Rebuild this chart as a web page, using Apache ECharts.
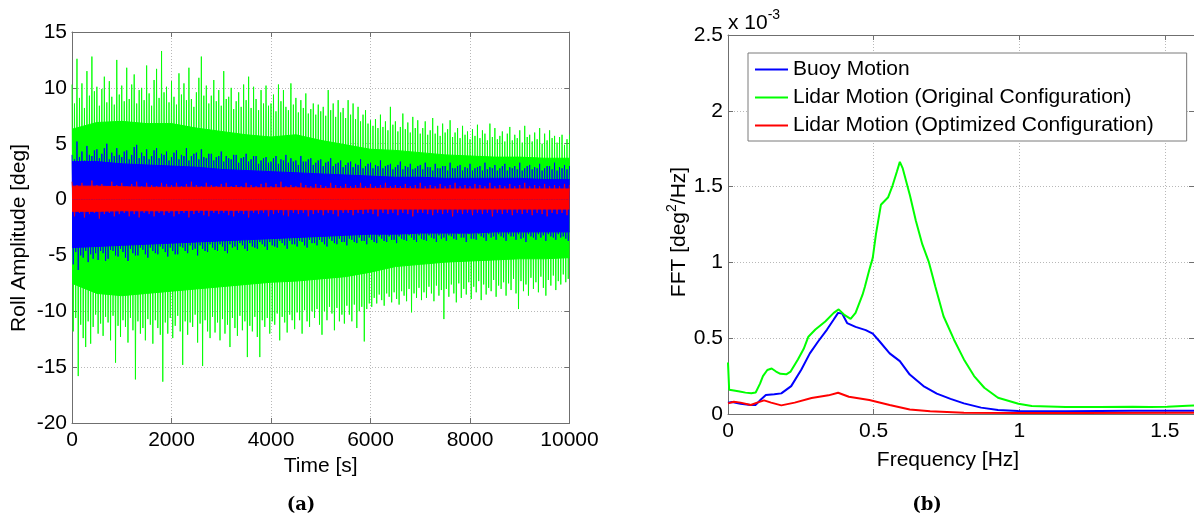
<!DOCTYPE html>
<html>
<head>
<meta charset="utf-8">
<script src="https://cdn.jsdelivr.net/npm/echarts@6/dist/echarts.min.js"></script>
<style>
  html, body { margin: 0; padding: 0; background: #ffffff; }
  #chart { width: 1194px; height: 520px; }
</style>
</head>
<body>
<div id="chart"></div>
<script>
// ---------- (a) roll amplitude time series ----------
// Peak samples in deg: hi at t = k*step, lo at t = k*step + step/2
const greenStep = 50;
const greenHi = [
  10.3, 8.6, 12.6, 9.1, 10.4, 8.2, 11.5, 9.3, 12.8, 9.7,
  10.1, 8.4, 9.9, 11.0, 8.7, 10.6, 9.2, 8.5, 12.5, 9.4,
  10.2, 8.8, 11.8, 9.0, 10.3, 11.2, 8.6, 9.8, 10.0, 8.9,
  12.0, 9.5, 8.4, 10.7, 11.7, 9.1, 13.3, 9.6, 10.1, 8.7,
  10.6, 9.2, 8.5, 11.3, 9.4, 10.4, 8.9, 11.8, 9.0, 8.3,
  9.6, 10.9, 12.8, 9.3, 10.2, 8.6, 9.3, 10.7, 8.8, 9.8,
  8.4, 11.5, 9.0, 9.2, 10.0, 8.1, 8.8, 9.6, 8.3, 10.3,
  8.9, 11.0, 8.2, 10.1, 9.0, 8.0, 9.8, 8.6, 10.2, 8.4,
  8.6, 9.4, 7.9, 10.3, 8.8, 9.8, 8.3, 8.0, 10.4, 8.5,
  9.1, 7.8, 8.9, 8.2, 9.5, 7.7, 8.1, 8.6, 7.6, 8.5,
  7.9, 8.3, 7.5, 9.8, 8.0, 8.6, 7.4, 8.9, 7.8, 8.2,
  7.3, 8.9, 7.6, 8.6, 7.2, 8.3, 7.0, 7.6, 8.0, 6.8,
  7.1, 6.6, 7.2, 6.4, 7.6, 6.5, 7.0, 6.2, 8.3, 6.7,
  7.0, 6.1, 6.5, 7.7, 6.3, 6.9, 6.0, 7.4, 6.4, 7.1,
  5.9, 6.4, 7.0, 5.8, 6.2, 7.3, 5.9, 6.6, 5.7, 6.8,
  6.0, 6.3, 7.1, 5.6, 6.0, 6.4, 5.5, 6.6, 5.8, 6.1,
  5.4, 6.3, 5.7, 6.7, 5.5, 6.2, 5.9, 5.3, 6.8, 5.6,
  6.4, 5.4, 5.7, 6.1, 5.2, 5.9, 6.5, 5.3, 5.8, 5.5,
  6.2, 5.1, 6.6, 5.6, 5.8, 5.2, 6.0, 5.4, 6.4, 5.0,
  5.9, 5.3, 6.2, 5.5, 5.7, 5.1, 5.6, 5.8, 4.9, 5.4,
  5.8
];
const greenLo = [
  -11.8, -10.6, -15.8, -11.2, -12.4, -13.2, -10.9, -12.9, -11.4, -10.3,
  -12.0, -11.1, -12.2, -10.5, -11.0, -12.6, -10.4, -14.6, -11.3, -12.3,
  -10.8, -11.4, -12.8, -10.6, -11.7, -16.1, -10.9, -12.0, -11.5, -12.6,
  -10.7, -11.2, -12.9, -10.8, -11.5, -12.1, -16.3, -11.0, -12.0, -10.6,
  -12.4, -11.3, -10.4, -11.8, -14.8, -10.9, -12.1, -11.0, -11.4, -10.3,
  -12.8, -11.1, -14.9, -10.8, -11.8, -12.4, -10.5, -11.9, -11.0, -12.6,
  -10.7, -12.0, -11.2, -13.2, -10.6, -11.5, -12.2, -10.4, -11.7, -10.9,
  -14.1, -11.3, -11.8, -10.5, -12.3, -14.1, -10.8, -11.4, -10.6, -12.0,
  -10.9, -11.2, -10.2, -12.6, -10.5, -11.0, -11.9, -10.3, -10.8, -11.6,
  -10.1, -10.8, -12.0, -9.9, -10.9, -11.4, -10.0, -10.6, -9.8, -11.2,
  -12.1, -10.0, -10.8, -9.6, -10.2, -11.7, -9.7, -10.9, -10.3, -11.1,
  -9.5, -10.3, -10.9, -9.4, -11.5, -10.0, -9.6, -12.7, -9.8, -9.3,
  -9.6, -8.8, -9.3, -8.5, -9.0, -9.5, -8.4, -8.7, -9.2, -8.3,
  -8.9, -9.4, -8.2, -8.6, -9.1, -8.0, -10.1, -8.4, -8.8, -7.9,
  -9.0, -8.3, -8.8, -7.8, -8.4, -9.1, -7.7, -8.6, -8.1, -10.7,
  -8.0, -8.7, -7.6, -8.4, -9.2, -7.5, -8.8, -8.0, -8.5, -7.4,
  -8.9, -7.8, -8.3, -7.3, -9.0, -7.6, -8.5, -7.9, -8.2, -7.2,
  -8.7, -7.7, -8.0, -7.4, -8.6, -7.5, -8.1, -7.1, -8.4, -9.8,
  -7.3, -8.2, -7.6, -8.6, -7.0, -8.0, -7.4, -8.3, -6.9, -7.9,
  -8.6, -7.2, -7.7, -6.8, -8.1, -7.3, -7.6, -6.7, -7.4, -7.1
];
const blueStep = 50;
const blueHi = [
  4.0, 3.6, 5.2, 3.8, 4.3, 3.5, 4.8, 4.0, 3.9, 4.4,
  4.5, 3.7, 4.1, 4.6, 5.0, 3.6, 4.2, 3.9, 4.6, 4.0,
  3.8, 4.3, 4.4, 3.6, 4.0, 4.7, 4.9, 3.7, 4.2, 3.9,
  4.5, 3.6, 3.9, 4.4, 4.6, 3.7, 4.1, 4.0, 4.3, 3.5,
  3.8, 4.2, 4.4, 3.6, 4.0, 3.9, 4.6, 3.5, 3.9, 4.1,
  4.2, 3.6, 4.5, 3.8, 3.7, 4.1, 4.1, 3.5, 3.8, 3.9,
  4.3, 3.4, 3.9, 3.7, 3.6, 4.0, 4.0, 3.3, 3.7, 3.8,
  4.1, 3.4, 3.6, 3.9, 3.9, 3.2, 3.5, 3.7, 3.8, 3.3,
  3.4, 3.7, 3.9, 3.2, 3.6, 3.5, 4.0, 3.3, 3.7, 3.4,
  3.5, 3.1, 3.9, 3.4, 3.4, 3.6, 3.7, 3.1, 3.3, 3.5,
  3.6, 3.0, 3.3, 3.4, 3.7, 3.0, 3.2, 3.3, 3.5, 2.9,
  3.1, 3.3, 3.4, 2.9, 3.2, 3.1, 3.6, 2.8, 3.0, 3.2,
  3.3, 2.8, 3.1, 3.0, 3.5, 2.8, 3.0, 3.1, 3.2, 2.7,
  2.9, 3.1, 3.4, 2.7, 3.0, 2.9, 3.2, 2.7, 2.8, 3.0,
  3.1, 2.7, 3.3, 2.9, 2.9, 2.6, 3.2, 2.8, 2.8, 3.0,
  3.0, 2.6, 3.3, 2.8, 2.8, 3.0, 3.1, 2.6, 2.9, 2.8,
  3.2, 2.6, 2.8, 2.9, 3.0, 2.6, 3.3, 2.7, 2.9, 2.8,
  3.1, 2.6, 2.8, 3.0, 3.2, 2.6, 2.9, 2.8, 3.0, 2.7,
  3.3, 2.6, 2.8, 3.0, 3.1, 2.7, 2.9, 2.8, 3.2, 2.6,
  2.8, 3.0, 3.0, 2.7, 3.3, 2.6, 2.9, 2.8, 3.1, 2.7,
  3.0
];
const blueLo = [
  -5.8, -4.7, -6.3, -5.0, -5.2, -4.6, -5.6, -4.9, -5.3, -4.8,
  -5.4, -4.6, -4.8, -5.5, -5.3, -4.5, -4.6, -5.0, -5.1, -4.4,
  -4.7, -5.2, -5.5, -4.4, -4.8, -5.0, -5.0, -4.3, -4.5, -4.9,
  -5.2, -4.3, -4.6, -4.8, -4.9, -4.2, -4.4, -4.7, -5.1, -4.3,
  -4.6, -4.9, -4.9, -4.2, -4.3, -4.6, -4.8, -4.1, -4.5, -4.4,
  -5.0, -4.1, -4.4, -4.6, -4.7, -4.0, -4.3, -4.5, -4.6, -4.0,
  -4.2, -4.6, -4.8, -4.0, -4.3, -4.2, -4.5, -3.9, -4.1, -4.4,
  -4.6, -3.9, -4.2, -4.3, -4.4, -3.8, -4.0, -4.2, -4.5, -3.8,
  -4.1, -4.2, -4.3, -3.7, -3.9, -4.1, -4.4, -3.7, -4.0, -4.0,
  -4.2, -3.7, -3.8, -4.1, -4.3, -3.6, -3.9, -3.9, -4.1, -3.6,
  -3.8, -4.0, -4.2, -3.5, -3.7, -3.9, -4.0, -3.5, -3.8, -3.8,
  -4.1, -3.5, -3.6, -3.8, -3.9, -3.4, -3.7, -3.7, -4.0, -3.4,
  -3.6, -3.8, -3.9, -3.3, -3.5, -3.7, -3.8, -3.3, -3.6, -3.6,
  -3.9, -3.3, -3.5, -3.6, -3.7, -3.2, -3.4, -3.6, -3.8, -3.2,
  -3.5, -3.6, -3.7, -3.2, -3.4, -3.5, -3.8, -3.2, -3.5, -3.4,
  -3.7, -3.2, -3.3, -3.5, -3.6, -3.1, -3.4, -3.4, -3.8, -3.1,
  -3.5, -3.5, -3.6, -3.1, -3.3, -3.4, -3.7, -3.1, -3.4, -3.3,
  -3.6, -3.1, -3.3, -3.4, -3.7, -3.1, -3.3, -3.3, -3.6, -3.1,
  -3.5, -3.4, -3.8, -3.1, -3.3, -3.4, -3.6, -3.1, -3.4, -3.2,
  -3.7, -3.1, -3.3, -3.4, -3.6, -3.1, -3.4, -3.3, -3.5, -3.7
];
const redStep = 100;
const redHi = [
  1.6, 1.3, 1.5, 1.2, 1.7, 1.3, 1.4, 1.2, 1.6, 1.3,
  1.5, 1.2, 1.4, 1.6, 1.2, 1.5, 1.3, 1.2, 1.5, 1.4,
  1.3, 1.5, 1.2, 1.4, 1.6, 1.3, 1.2, 1.5, 1.3, 1.2,
  1.4, 1.5, 1.2, 1.3, 1.2, 1.5, 1.3, 1.2, 1.4, 1.5,
  1.2, 1.4, 1.6, 1.2, 1.3, 1.2, 1.5, 1.3, 1.2, 1.4,
  1.3, 1.2, 1.5, 1.3, 1.2, 1.4, 1.2, 1.3, 1.5, 1.2,
  1.4, 1.2, 1.3, 1.5, 1.2, 1.3, 1.2, 1.4, 1.2, 1.3,
  1.5, 1.2, 1.3, 1.2, 1.4, 1.2, 1.3, 1.5, 1.2, 1.3,
  1.2, 1.4, 1.3, 1.2, 1.5, 1.2, 1.3, 1.2, 1.4, 1.2,
  1.3, 1.5, 1.2, 1.3, 1.2, 1.4, 1.2, 1.3, 1.2, 1.4,
  1.3
];
const redLo = [
  -1.5, -1.2, -1.6, -1.3, -1.2, -1.7, -1.3, -1.2, -1.5, -1.3,
  -1.2, -1.5, -1.3, -1.6, -1.2, -1.3, -1.5, -1.2, -1.4, -1.2,
  -1.5, -1.3, -1.2, -1.6, -1.3, -1.2, -1.4, -1.5, -1.2, -1.3,
  -1.2, -1.4, -1.5, -1.2, -1.3, -1.6, -1.2, -1.3, -1.2, -1.5,
  -1.3, -1.2, -1.4, -1.5, -1.2, -1.3, -1.2, -1.5, -1.3, -1.2,
  -1.4, -1.2, -1.3, -1.5, -1.2, -1.2, -1.4, -1.2, -1.3, -1.2,
  -1.3, -1.5, -1.2, -1.3, -1.2, -1.4, -1.2, -1.3, -1.5, -1.2,
  -1.2, -1.3, -1.4, -1.2, -1.3, -1.2, -1.5, -1.2, -1.3, -1.2,
  -1.4, -1.2, -1.3, -1.2, -1.5, -1.2, -1.3, -1.2, -1.4, -1.2,
  -1.3, -1.2, -1.4, -1.2, -1.3, -1.5, -1.2, -1.3, -1.2, -1.4
];
// Dense (filled) part of each band, every 500 s
const coreStep = 500;
const greenCoreHi = [6.3, 6.9, 7.0, 6.8, 6.8, 6.4, 6.1, 5.8, 5.6, 5.8, 5.3, 4.9, 4.5, 4.4, 4.2, 4.0, 3.9, 3.8, 3.8, 3.7, 3.7];
const greenCoreLo = [-7.5, -8.4, -8.6, -8.4, -8.2, -8.0, -7.8, -7.6, -7.4, -7.3, -7.1, -6.9, -6.5, -6.0, -5.8, -5.6, -5.5, -5.4, -5.3, -5.3, -5.2];
const blueCoreHi = [3.4, 3.4, 3.2, 3.1, 3.0, 2.9, 2.7, 2.6, 2.5, 2.4, 2.3, 2.2, 2.1, 2.0, 2.0, 1.9, 1.9, 1.9, 1.9, 1.8, 1.8];
const blueCoreLo = [-4.3, -4.2, -4.1, -4.0, -3.9, -3.8, -3.7, -3.6, -3.5, -3.4, -3.3, -3.2, -3.1, -3.1, -3.0, -3.0, -3.0, -2.9, -2.9, -2.9, -2.9];
const redCoreHi = [1.2, 1.2, 1.15, 1.1, 1.1, 1.1, 1.1, 1.05, 1.05, 1.05, 1.0, 1.0, 1.0, 1.0, 0.95, 0.95, 0.95, 0.95, 0.95, 0.95, 0.95];
const redCoreLo = [-1.05, -1.05, -1.0, -1.0, -1.0, -0.95, -0.95, -0.95, -0.9, -0.9, -0.9, -0.9, -0.85, -0.85, -0.85, -0.85, -0.85, -0.85, -0.85, -0.85, -0.85];

const timeAxis = { min: 0, max: 10000, interval: 2000 };
const rollAxis = { min: -20, max: 15, interval: 5 };

// ---------- (b) spectra, values in 1e-3 deg^2/Hz ----------
const freqBuoy = [0, 0.014, 0.043, 0.078, 0.095, 0.113, 0.13, 0.159, 0.183, 0.217, 0.252, 0.281, 0.31, 0.34, 0.363, 0.378, 0.392, 0.409, 0.438, 0.473, 0.497, 0.52, 0.555, 0.59, 0.624, 0.671, 0.717, 0.764, 0.81, 0.869, 0.927, 0.997, 1.16, 1.39, 1.578, 1.6];
const fftBuoy  = [0.075, 0.079, 0.068, 0.059, 0.06, 0.096, 0.125, 0.13, 0.136, 0.184, 0.294, 0.40, 0.48, 0.557, 0.623, 0.667, 0.662, 0.60, 0.575, 0.553, 0.53, 0.48, 0.40, 0.349, 0.26, 0.184, 0.134, 0.10, 0.07, 0.042, 0.026, 0.02, 0.018, 0.022, 0.022, 0.022];
const freqOrig = [0, 0.004, 0.02, 0.04, 0.06, 0.08, 0.095, 0.11, 0.12, 0.135, 0.15, 0.165, 0.18, 0.2, 0.215, 0.24, 0.26, 0.276, 0.3, 0.334, 0.363, 0.38, 0.398, 0.421, 0.438, 0.462, 0.47, 0.485, 0.497, 0.508, 0.525, 0.535, 0.55, 0.565, 0.58, 0.59, 0.60, 0.611, 0.625, 0.645, 0.667, 0.69, 0.712, 0.74, 0.776, 0.81, 0.845, 0.88, 0.927, 0.997, 1.043, 1.159, 1.276, 1.39, 1.45, 1.508, 1.578, 1.6];
const fftOrig  = [0.34, 0.16, 0.155, 0.148, 0.141, 0.137, 0.142, 0.2, 0.25, 0.29, 0.30, 0.28, 0.265, 0.262, 0.28, 0.36, 0.43, 0.51, 0.557, 0.61, 0.667, 0.69, 0.656, 0.627, 0.667, 0.787, 0.84, 0.95, 1.03, 1.187, 1.38, 1.40, 1.43, 1.507, 1.60, 1.663, 1.62, 1.54, 1.44, 1.275, 1.12, 1.0, 0.84, 0.645, 0.49, 0.36, 0.25, 0.173, 0.107, 0.068, 0.053, 0.046, 0.046, 0.048, 0.046, 0.048, 0.055, 0.056];
const freqOpt  = [0, 0.02, 0.043, 0.078, 0.1, 0.124, 0.148, 0.183, 0.229, 0.287, 0.345, 0.378, 0.415, 0.485, 0.555, 0.624, 0.694, 0.81, 1.0, 1.2, 1.6];
const fftOpt   = [0.07, 0.081, 0.075, 0.059, 0.075, 0.09, 0.075, 0.057, 0.075, 0.105, 0.123, 0.14, 0.114, 0.092, 0.059, 0.03, 0.018, 0.009, 0.007, 0.007, 0.009];

const freqAxis = { min: 0, max: 1.6, interval: 0.5 };
const fftAxis = { min: 0, max: 2.5, interval: 0.5 };

const seriesNames = ['Buoy Motion', 'Lidar Motion (Original Configuration)', 'Lidar Motion (Optimized Configuration)'];
const GREEN = '#00ff00', BLUE = '#0000ff', RED = '#ff0000';

// ---------- helpers ----------
const FONT = '"Liberation Sans", Arial, Helvetica, sans-serif';
const FRAME = '#6f6f6f';
const GRIDLINE = { show: true, lineStyle: { color: '#b8b8b8', width: 1, type: [1, 2] } };

function zigzag(hi, lo, step) {
  const pts = [];
  for (let i = 0; i < hi.length; i++) {
    pts.push([i * step, hi[i]]);
    if (i < lo.length) pts.push([i * step + step / 2, lo[i]]);
  }
  return pts;
}
function evenly(values, step) { return values.map((v, i) => [i * step, v]); }
function zip(xs, ys) { return xs.map((x, i) => [x, ys[i]]); }

// Each layer gets its own z so fills and strokes stack strictly in order
function coreSeries(values, color, z) {
  return {
    type: 'line', xAxisIndex: 0, yAxisIndex: 0, silent: true, symbol: 'none', z: z,
    data: evenly(values, coreStep),
    lineStyle: { color: color, width: 1 },
    areaStyle: { color: color, opacity: 1 }
  };
}
function spikeSeries(hi, lo, step, color, width, z) {
  return {
    type: 'line', xAxisIndex: 0, yAxisIndex: 0, silent: true, symbol: 'none', z: z,
    data: zigzag(hi, lo, step),
    lineStyle: { color: color, width: width }
  };
}
function spectrumSeries(name, xs, ys, color, z) {
  return {
    name: name, type: 'line', xAxisIndex: 2, yAxisIndex: 2, symbol: 'none', z: z,
    data: zip(xs, ys), color: color,
    lineStyle: { color: color, width: 2 }
  };
}

const plainNumber = v => String(v);

function mainAxis(grid, ax, extra) {
  return Object.assign({
    type: 'value', gridIndex: grid, min: ax.min, max: ax.max, interval: ax.interval,
    axisLine: { show: true, onZero: false, lineStyle: { color: FRAME, width: 1 } },
    axisTick: { show: true, inside: true, length: 5, lineStyle: { color: FRAME } },
    axisLabel: { color: '#000', fontSize: 21, fontFamily: FONT, margin: 7, formatter: plainNumber },
    splitLine: GRIDLINE,
    nameLocation: 'middle',
    nameTextStyle: { color: '#000', fontSize: 21, fontFamily: FONT }
  }, extra);
}
function mirrorAxis(grid, ax, pos) {
  return {
    type: 'value', gridIndex: grid, position: pos, min: ax.min, max: ax.max, interval: ax.interval,
    axisLine: { show: true, onZero: false, lineStyle: { color: FRAME, width: 1 } },
    axisTick: { show: true, inside: true, length: 5, lineStyle: { color: FRAME } },
    axisLabel: { show: false }, splitLine: { show: false }
  };
}

const chart = echarts.init(document.getElementById('chart'), null, { renderer: 'canvas' });

chart.setOption({
  animation: false,
  backgroundColor: '#ffffff',
  grid: [
    { left: 72, top: 32, width: 497.5, height: 391 },
    { left: 728, top: 35, width: 469, height: 379 }
  ],
  xAxis: [
    mainAxis(0, timeAxis, { name: 'Time [s]', nameGap: 27 }),
    mirrorAxis(0, timeAxis, 'top'),
    mainAxis(1, freqAxis, {
      name: 'Frequency [Hz]', nameGap: 36,
      nameTextStyle: { color: '#000', fontSize: 21, fontFamily: FONT, padding: [0, 26, 0, 0] },
      axisLabel: { color: '#000', fontSize: 21, fontFamily: FONT, margin: 7, showMaxLabel: false, formatter: plainNumber }
    }),
    mirrorAxis(1, freqAxis, 'top')
  ],
  yAxis: [
    mainAxis(0, rollAxis, {
      name: 'Roll Amplitude [deg]', nameGap: 42,
      nameTextStyle: { color: '#000', fontSize: 21, fontFamily: FONT, padding: [0, 21, 0, 0] },
      axisLabel: { color: '#000', fontSize: 21, fontFamily: FONT, margin: 5, formatter: plainNumber }
    }),
    mirrorAxis(0, rollAxis, 'right'),
    mainAxis(1, fftAxis, {
      name: '{b|FFT [deg}{s|2}{b|/Hz]}', nameGap: 35,
      nameTextStyle: {
        padding: [0, 15, 0, 0],
        rich: {
          b: { color: '#000', fontSize: 21, fontFamily: FONT, lineHeight: 28 },
          s: { color: '#000', fontSize: 14, fontFamily: FONT, lineHeight: 10, verticalAlign: 'top' }
        }
      },
      axisLabel: { color: '#000', fontSize: 21, fontFamily: FONT, margin: 5, formatter: plainNumber }
    }),
    mirrorAxis(1, fftAxis, 'right')
  ],
  legend: {
    data: seriesNames,
    orient: 'vertical', left: 748, top: 53,
    padding: [6, 33, 5, 7], itemGap: 7,
    icon: 'rect', itemWidth: 33, itemHeight: 2,
    backgroundColor: '#ffffff', borderColor: '#7a7a7a', borderWidth: 1,
    textStyle: { color: '#000', fontSize: 21, fontFamily: FONT },
    selectedMode: false
  },
  graphic: [
    {
      type: 'text', left: 728, top: 8,
      style: {
        text: '{b|x 10}{s|-3}',
        rich: {
          b: { fill: '#000', fontSize: 21, fontFamily: FONT, lineHeight: 30 },
          s: { fill: '#000', fontSize: 14, fontFamily: FONT, lineHeight: 8, verticalAlign: 'top' }
        }
      }
    },
    {
      type: 'text', x: 301, y: 505,
      style: { text: '(a)', fill: '#000', font: 'bold 18px "DejaVu Serif", serif', align: 'center', verticalAlign: 'middle' }
    },
    {
      type: 'text', x: 927, y: 505,
      style: { text: '(b)', fill: '#000', font: 'bold 18px "DejaVu Serif", serif', align: 'center', verticalAlign: 'middle' }
    }
  ],
  series: [
    coreSeries(greenCoreHi, GREEN, 2),
    coreSeries(greenCoreLo, GREEN, 2),
    spikeSeries(greenHi, greenLo, greenStep, GREEN, 0.9, 3),
    coreSeries(blueCoreHi, BLUE, 4),
    coreSeries(blueCoreLo, BLUE, 4),
    spikeSeries(blueHi, blueLo, blueStep, BLUE, 0.9, 5),
    coreSeries(redCoreHi, RED, 6),
    coreSeries(redCoreLo, RED, 6),
    spikeSeries(redHi, redLo, redStep, RED, 0.8, 7),
    spectrumSeries(seriesNames[0], freqBuoy, fftBuoy, BLUE, 8),
    spectrumSeries(seriesNames[1], freqOrig, fftOrig, GREEN, 9),
    spectrumSeries(seriesNames[2], freqOpt, fftOpt, RED, 10)
  ]
});
</script>
</body>
</html>
